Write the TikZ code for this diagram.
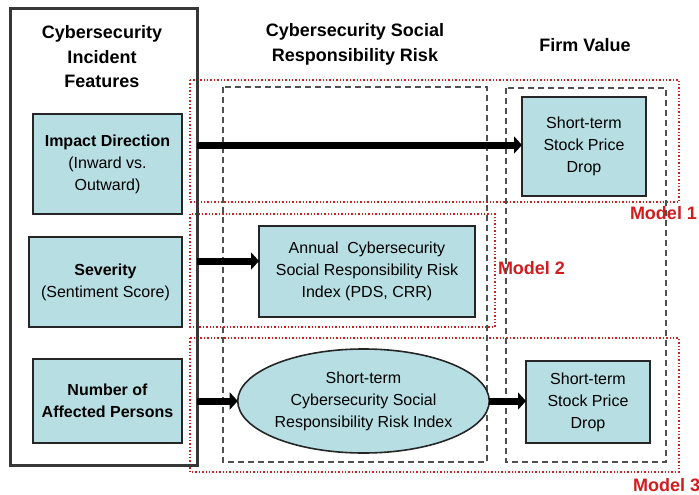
\documentclass[tikz,border=0pt]{standalone}
\usepackage{fontspec}
\setmainfont{Liberation Sans}
\usetikzlibrary{arrows.meta,shapes.geometric}
\definecolor{boxfill}{RGB}{183,223,227}
\definecolor{modelred}{RGB}{208,30,30}
\definecolor{colgray}{RGB}{80,80,80}
\definecolor{frame}{RGB}{55,55,55}
\begin{document}
\begin{tikzpicture}[x=1pt,y=-1pt,
  txt/.style={font=\fontsize{16}{22}\selectfont},
  head/.style={font=\fontsize{18}{24.5}\selectfont\bfseries, align=center},
  featbox/.style={draw=black!85, line width=1.6pt, fill=boxfill, align=center,
    inner sep=0pt, outer sep=0pt, txt},
  oval/.style={featbox, ellipse},
  modelbox/.style={draw=modelred, line width=1.4pt, dotted},
  colbox/.style={draw=colgray, line width=1.4pt, dash pattern=on 6pt off 4pt},
  modellabel/.style={text=modelred, font=\fontsize{18}{20}\selectfont\bfseries, inner sep=0pt},
  bigarrow/.style={line width=7pt, -{Triangle[length=8pt,width=17pt]}}
]
\useasboundingbox (0,0) rectangle (699,495);
\fill[white] (0,0) rectangle (699,495);

% model frames (red dotted)
\draw[modelbox] (190,80) rectangle (679,202);
\draw[modelbox] (190,214) rectangle (495,327);
\draw[modelbox] (190,338) rectangle (679,472);
\node[modellabel] (m1) at (663.5,213) {Model 1};
\node[modellabel] (m2) at (531.5,268) {Model 2};
\node[modellabel, anchor=west] (m3) at (633,485) {Model 3};

% column frames (gray dashed)
\draw[colbox] (223,87) rectangle (487,462);
\draw[colbox] (506,88) rectangle (666,462);

% incident features column
\node[draw=frame, line width=3pt, minimum width=187pt, minimum height=456pt,
  inner sep=0pt, outer sep=0pt] (features) at (103.5,237) {};
\node[head] (h1) at (102,57) {Cybersecurity\\Incident\\Features};

\node[featbox, minimum width=149pt, minimum height=100pt] (impact) at (107.5,164)
  {\textbf{Impact Direction}\\(Inward vs.\\Outward)};
\node[featbox, minimum width=153pt, minimum height=90pt] (severity) at (105.5,282)
  {\textbf{Severity}\\(Sentiment Score)};
\node[featbox, minimum width=149pt, minimum height=84pt] (number) at (107.5,401)
  {\textbf{Number of}\\\textbf{Affected Persons}};

% column headers
\node[head] (h2) at (355,44.5) {Cybersecurity Social\\Responsibility Risk};
\node[head] (h3) at (585,45) {Firm Value};

% risk column
\node[featbox, minimum width=216pt, minimum height=91pt] (annual) at (367,271.5)
  {Annual\ \ Cybersecurity\\Social Responsibility Risk\\Index (PDS, CRR)};
\node[oval, minimum width=197pt, minimum height=104pt] (shortrisk) at (363.5,401)
  {Short-term\\Cybersecurity Social\\Responsibility Risk Index};

% firm value column
\node[featbox, minimum width=124pt, minimum height=99pt] (stock1) at (584,146.5)
  {Short-term\\Stock Price\\Drop};
\node[featbox, minimum width=124pt, minimum height=82pt] (stock2) at (588,402)
  {Short-term\\Stock Price\\Drop};

% connectors
\draw[bigarrow] (features.east |- 0,145) -- (stock1.west |- 0,145);
\draw[bigarrow] (features.east |- 0,261) -- (annual.west |- 0,261);
\draw[bigarrow] (features.east |- shortrisk) -- (shortrisk.west);
\draw[bigarrow] (shortrisk.east) -- (stock2.west |- shortrisk.east);
\end{tikzpicture}
\end{document}
